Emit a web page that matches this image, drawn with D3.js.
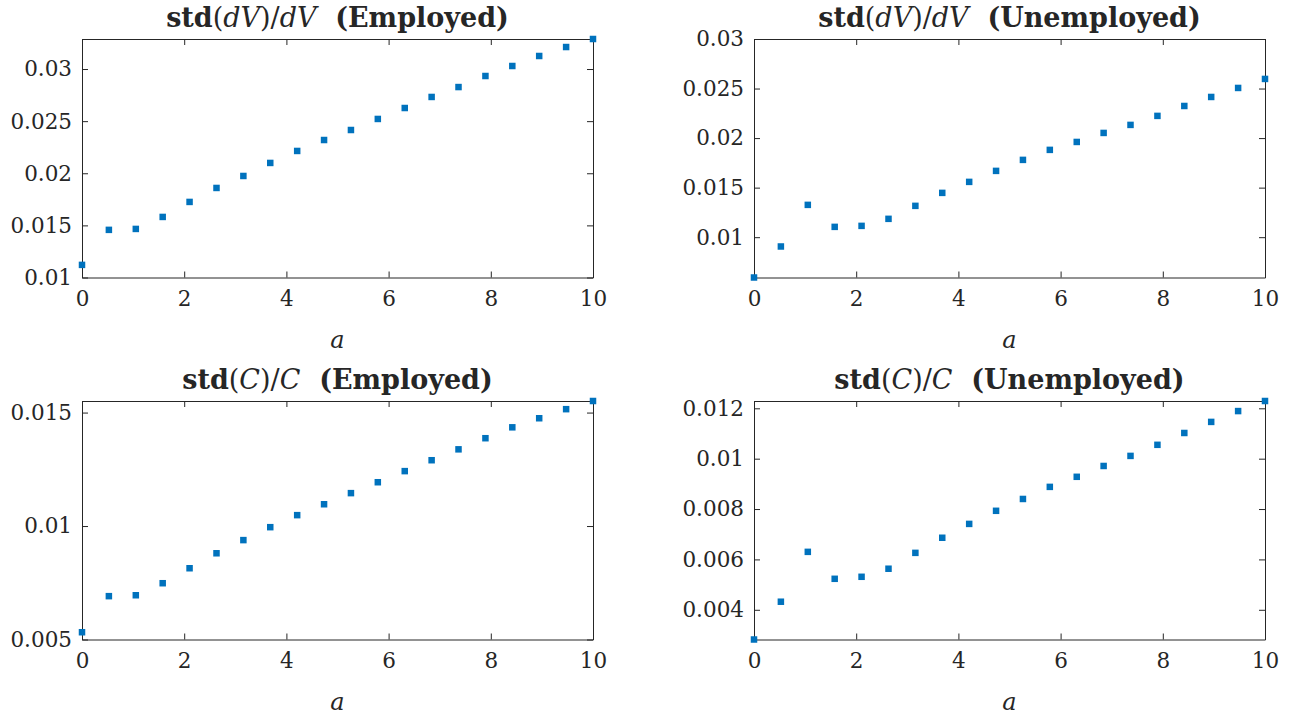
<!DOCTYPE html>
<html>
<head>
<meta charset="utf-8">
<script src="https://cdn.jsdelivr.net/npm/d3@7"></script>
<style>
  body { margin: 0; background: #fff; }
  text { fill: #262626; }
</style>
</head>
<body>
<svg id="chart"></svg>
<script>

// grid of asset levels (20 points on [0, 10])
var aGrid = [0, 0.526, 1.053, 1.579, 2.105, 2.632, 3.158, 3.684, 4.211, 4.737,
             5.263, 5.789, 6.316, 6.842, 7.368, 7.895, 8.421, 8.947, 9.474, 10];

// std(dV)/dV, employed and unemployed
var dvEmployed = [0.01121, 0.01457, 0.01466, 0.01581, 0.01725, 0.01859, 0.01974, 0.02099, 0.02214, 0.02319,
                  0.02415, 0.02521, 0.02626, 0.02732, 0.02827, 0.02933, 0.03029, 0.03125, 0.03211, 0.03288];
var dvUnemployed = [0.00593, 0.00906, 0.01326, 0.01104, 0.01114, 0.01185, 0.01316, 0.01447, 0.01558, 0.01669,
                    0.01780, 0.01881, 0.01961, 0.02052, 0.02133, 0.02224, 0.02324, 0.02415, 0.02506, 0.02597];

// std(C)/C, employed and unemployed
var cEmployed = [0.00532, 0.00691, 0.00695, 0.00748, 0.00814, 0.00880, 0.00938, 0.00995, 0.01048, 0.01096,
                 0.01145, 0.01193, 0.01242, 0.01290, 0.01338, 0.01387, 0.01435, 0.01475, 0.01515, 0.01551];
var cUnemployed = [0.00282, 0.00432, 0.00630, 0.00523, 0.00531, 0.00563, 0.00626, 0.00686, 0.00741, 0.00793,
                   0.00840, 0.00888, 0.00928, 0.00971, 0.01011, 0.01055, 0.01102, 0.01146, 0.01189, 0.01229];

// axis limits and ticks
var xTicks = [0, 2, 4, 6, 8, 10];
var dvEmpLimits = [0.01, 0.03288];
var dvUnempLimits = [0.00593, 0.03];
var cEmpLimits = [0.005, 0.01551];
var cUnempLimits = [0.00282, 0.01229];
var dvTicks = [0.01, 0.015, 0.02, 0.025, 0.03];
var cEmpTicks = [0.005, 0.01, 0.015];
var cUnempTicks = [0.004, 0.006, 0.008, 0.01, 0.012];

var panels = [
  { v: "dV", status: "Employed",   y: dvEmployed,   lim: dvEmpLimits,   ticks: dvTicks },
  { v: "dV", status: "Unemployed", y: dvUnemployed, lim: dvUnempLimits, ticks: dvTicks },
  { v: "C",  status: "Employed",   y: cEmployed,    lim: cEmpLimits,    ticks: cEmpTicks },
  { v: "C",  status: "Unemployed", y: cUnemployed,  lim: cUnempLimits,  ticks: cUnempTicks }
];

var config = {
  w: 1293,
  h: 715,
  cols: [82, 754],
  rows: [39, 401],
  pw: 511,
  ph: 238.5,
  tick: 6,
  marker: 6.5,
  color: "#0072BD",
  axis: "#262626",
  serif: "'DejaVu Serif', serif"
};

var svg = d3.select("#chart")
  .attr("width", config.w)
  .attr("height", config.h);

var fmt = d3.format("~g");

panels.forEach(function(p, i) {
  var left = config.cols[i % 2];
  var top = config.rows[Math.floor(i / 2)];

  var x = d3.scaleLinear().domain([0, 10]).range([0, config.pw]);
  var y = d3.scaleLinear().domain(p.lim).range([config.ph, 0]);

  var g = svg.append("g").attr("transform", "translate(" + left + "," + top + ")");

  // axes, ticks pointing inward on all four sides
  var bottom = g.append("g")
    .attr("transform", "translate(0," + config.ph + ")")
    .call(d3.axisBottom(x).tickValues(xTicks).tickSizeInner(-config.tick).tickSizeOuter(0).tickPadding(13).tickFormat(fmt));
  var leftAx = g.append("g")
    .call(d3.axisLeft(y).tickValues(p.ticks).tickSizeInner(-config.tick).tickSizeOuter(0).tickPadding(10).tickFormat(fmt));
  var topAx = g.append("g")
    .call(d3.axisTop(x).tickValues(xTicks).tickSizeInner(-config.tick).tickSizeOuter(0).tickFormat(""));
  var rightAx = g.append("g")
    .attr("transform", "translate(" + config.pw + ",0)")
    .call(d3.axisRight(y).tickValues(p.ticks).tickSizeInner(-config.tick).tickSizeOuter(0).tickFormat(""));

  [bottom, leftAx, topAx, rightAx].forEach(function(a) {
    a.attr("font-family", config.serif).attr("font-size", 21.5);
    a.selectAll("path, line").attr("stroke", config.axis).attr("stroke-width", 1);
    a.selectAll("text").attr("fill", config.axis);
  });
  bottom.selectAll("text").attr("dy", "0.71em");

  // markers
  g.selectAll("rect.pt")
    .data(aGrid)
    .enter()
    .append("rect")
      .attr("class", "pt")
      .attr("x", function(d) { return x(d) - config.marker / 2; })
      .attr("y", function(d, j) { return y(p.y[j]) - config.marker / 2; })
      .attr("width", config.marker)
      .attr("height", config.marker)
      .attr("fill", config.color);

  // x label
  g.append("text")
    .attr("x", config.pw / 2)
    .attr("y", config.ph + 70)
    .attr("text-anchor", "middle")
    .attr("font-family", config.serif)
    .attr("font-size", 24)
    .style("font-style", "italic")
    .text("a");

  // title
  var t = g.append("text")
    .attr("x", config.pw / 2)
    .attr("y", -12)
    .attr("text-anchor", "middle")
    .attr("font-family", config.serif)
    .attr("font-size", 27)
    .attr("fill", "#000");
  t.append("tspan").style("font-weight", "bold").text("std");
  t.append("tspan").text("(");
  t.append("tspan").style("font-style", "italic").text(p.v);
  t.append("tspan").text(")/");
  t.append("tspan").style("font-style", "italic").text(p.v);
  t.append("tspan").style("font-weight", "bold").text("\u00a0\u00a0(" + p.status + ")");
});

</script>
</body>
</html>
